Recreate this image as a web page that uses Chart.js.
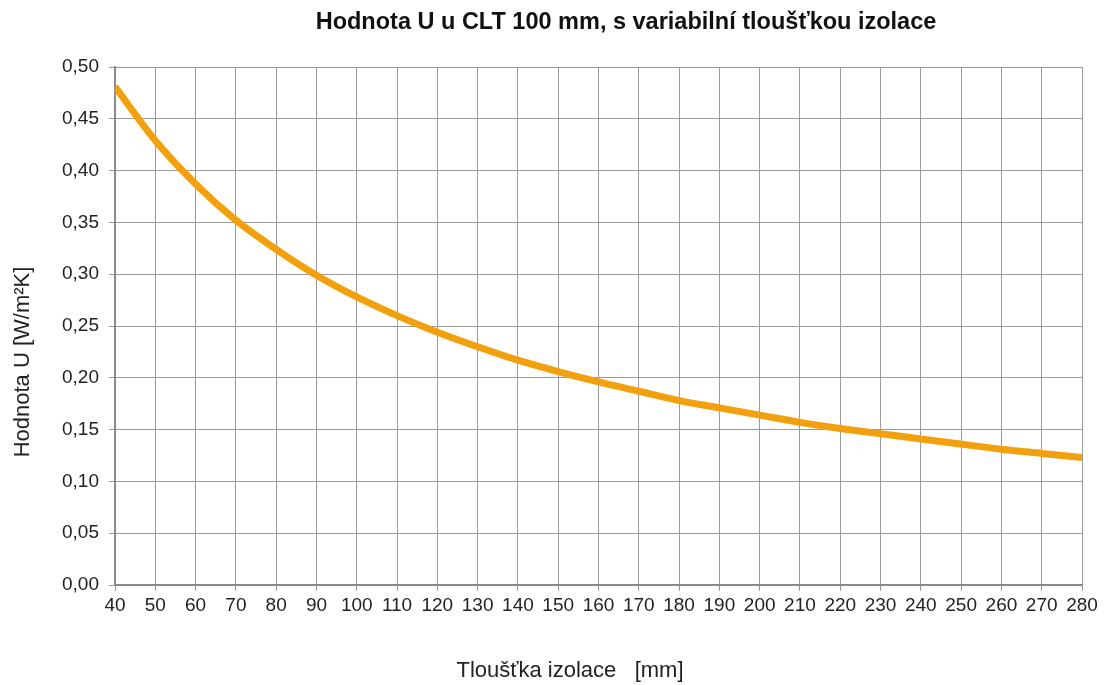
<!DOCTYPE html>
<html>
<head>
<meta charset="utf-8">
<script src="https://cdn.jsdelivr.net/npm/chart.js@4/dist/chart.umd.min.js"></script>
<style>
  html, body { margin: 0; padding: 0; background: #fff; }
  #wrap { width: 1108px; height: 685px; }
</style>
</head>
<body>
<div id="wrap"><canvas id="uChart" width="1108" height="685"></canvas></div>
<script>
// tloušťka izolace [mm]
var thickness = [40, 50, 60, 70, 80, 90, 100, 110, 120, 130, 140, 150, 160,
                 170, 180, 190, 200, 210, 220, 230, 240, 250, 260, 270, 280];
// hodnota U [W/m2K]
var uValues = [0.481, 0.429, 0.387, 0.352, 0.324, 0.299, 0.278, 0.260, 0.244,
               0.230, 0.217, 0.206, 0.196, 0.187, 0.178, 0.171, 0.164, 0.157,
               0.151, 0.146, 0.141, 0.136, 0.131, 0.127, 0.123];
var chartTitle = 'Hodnota U u CLT 100 mm, s variabilní tloušťkou izolace';
var xTitle = 'Tloušťka izolace   [mm]';
var yTitle = 'Hodnota U [W/m²K]';

var points = thickness.map(function (t, i) { return { x: t, y: uValues[i] }; });
var fam = '"Liberation Sans", Arial, sans-serif';

// nadpisy grafu a os
var titlePlugin = {
    id: 'titleText',
    afterDraw: function (chart) {
        var c = chart.ctx;
        c.save();
        c.fillStyle = '#111';
        c.textAlign = 'center';
        c.textBaseline = 'alphabetic';
        c.font = 'bold 23.5px ' + fam;
        c.fillText(chartTitle, 626, 29);
        c.fillStyle = '#222';
        c.font = '22px ' + fam;
        c.fillText(xTitle, 570, 677);
        c.translate(29, 362);
        c.rotate(-Math.PI / 2);
        c.fillText(yTitle, 0, 0);
        c.restore();
    }
};

var ctx = document.getElementById('uChart').getContext('2d');
var uChart = new Chart(ctx, {
    type: 'line',
    data: {
        datasets: [{
            data: points,
            borderColor: '#F3A00E',
            borderWidth: 7,
            pointRadius: 0,
            tension: 0.4,
            cubicInterpolationMode: 'monotone',
            fill: false
        }]
    },
    options: {
        responsive: false,
        animation: false,
        layout: { padding: { top: 67, right: 26, left: 0, bottom: 0 } },
        plugins: {
            legend: { display: false },
            tooltip: { enabled: false }
        },
        scales: {
            x: {
                type: 'linear',
                min: 40,
                max: 280,
                afterFit: function (s) { s.height = 100; },
                ticks: {
                    stepSize: 10,
                    color: '#222',
                    padding: 3,
                    maxRotation: 0,
                    autoSkip: false,
                    font: { family: fam, size: 19 }
                },
                grid: { color: '#9a9a9a', lineWidth: 1, tickLength: 6 },
                border: { color: '#8a8a8a', width: 2 }
            },
            y: {
                min: 0,
                max: 0.5,
                afterFit: function (s) { s.width = 115; },
                ticks: {
                    stepSize: 0.05,
                    color: '#222',
                    padding: 10,
                    font: { family: fam, size: 19 },
                    callback: function (v) { return v.toFixed(2).replace('.', ','); }
                },
                grid: { color: '#9a9a9a', lineWidth: 1, tickLength: 6 },
                border: { color: '#8a8a8a', width: 2 }
            }
        }
    },
    plugins: [titlePlugin]
});
</script>
</body>
</html>
